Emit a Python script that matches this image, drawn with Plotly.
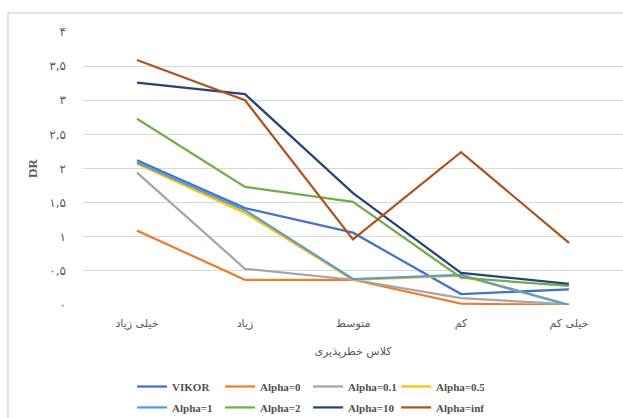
import plotly.graph_objects as go

categories = ["خیلی زیاد", "زیاد", "متوسط", "کم", "خیلی کم"]
vikor = [2.12, 1.42, 1.06, 0.16, 0.23]
alpha_0 = [1.09, 0.37, 0.37, 0.02, 0.0]
alpha_01 = [1.94, 0.53, 0.37, 0.10, 0.01]
alpha_05 = [2.07, 1.35, 0.37, 0.43, 0.0]
alpha_1 = [2.09, 1.39, 0.38, 0.44, 0.0]
alpha_2 = [2.73, 1.73, 1.51, 0.40, 0.28]
alpha_10 = [3.26, 3.09, 1.64, 0.47, 0.31]
alpha_inf = [3.59, 3.0, 0.96, 2.24, 0.91]

y_tickvals = [0, 0.5, 1, 1.5, 2, 2.5, 3, 3.5, 4]
y_ticktext = ["۰", "۰,۵", "۱", "۱,۵", "۲", "۲,۵", "۳", "۳,۵", "۴"]

series = [
    ("VIKOR", vikor, "#4472C4", "legend"),
    ("Alpha=0", alpha_0, "#ED7D31", "legend"),
    ("Alpha=0.1", alpha_01, "#A5A5A5", "legend"),
    ("Alpha=0.5", alpha_05, "#FFC000", "legend"),
    ("Alpha=1", alpha_1, "#5B9BD5", "legend2"),
    ("Alpha=2", alpha_2, "#70AD47", "legend2"),
    ("Alpha=10", alpha_10, "#264478", "legend2"),
    ("Alpha=inf", alpha_inf, "#B0541F", "legend2"),
]

fig = go.Figure()
for name, vals, color, lg in series:
    fig.add_trace(go.Scatter(
        x=categories, y=vals, name=name, mode="lines",
        line=dict(color=color, width=2.25),
        legend=lg,
    ))

legend_font = dict(family="Liberation Serif", size=11, color="#505050", weight="bold")

fig.update_layout(
    width=623, height=418,
    margin=dict(l=83, r=0, t=32, b=113, autoexpand=False),
    paper_bgcolor="white", plot_bgcolor="white",
    showlegend=True,
    legend=dict(orientation="h", xref="container", yref="container",
                x=0.212, xanchor="left", y=0.11, yanchor="top",
                font=legend_font, entrywidth=43, entrywidthmode="pixels",
                bgcolor="rgba(0,0,0,0)", tracegroupgap=0),
    legend2=dict(orientation="h", xref="container", yref="container",
                 x=0.212, xanchor="left", y=0.06, yanchor="top",
                 font=legend_font, entrywidth=43, entrywidthmode="pixels",
                 bgcolor="rgba(0,0,0,0)", tracegroupgap=0),
    xaxis=dict(
        type="category", range=[-0.5, 4.5], showgrid=False, zeroline=False,
        showline=False, ticks="", ticklabelstandoff=10,
        tickfont=dict(family="DejaVu Sans", size=11, color="#595959"),
        title=dict(text="کلاس خطرپذیری", font=dict(family="DejaVu Sans", size=11, color="#595959"),
                   standoff=18),
    ),
    yaxis=dict(
        range=[0, 4], tickvals=y_tickvals, ticktext=y_ticktext,
        showgrid=True, gridcolor="#D9D9D9", gridwidth=1,
        zeroline=False, showline=False, ticks="", ticklabelstandoff=16,
        tickfont=dict(family="DejaVu Sans", size=12, color="#595959"),
        title=dict(text="DR", font=dict(family="Liberation Serif", size=13, color="#595959", weight="bold"),
                   standoff=8),
    ),
    shapes=[dict(type="rect", xref="paper", yref="paper",
                 x0=-0.139, x1=1.2, y0=-0.6, y1=1.07,
                 line=dict(color="#D0D0D0", width=1.2), fillcolor="rgba(0,0,0,0)", layer="above")],
)

fig.write_html("out.html", config={"displayModeBar": False},
               post_script="document.body.style.margin='0px';")
